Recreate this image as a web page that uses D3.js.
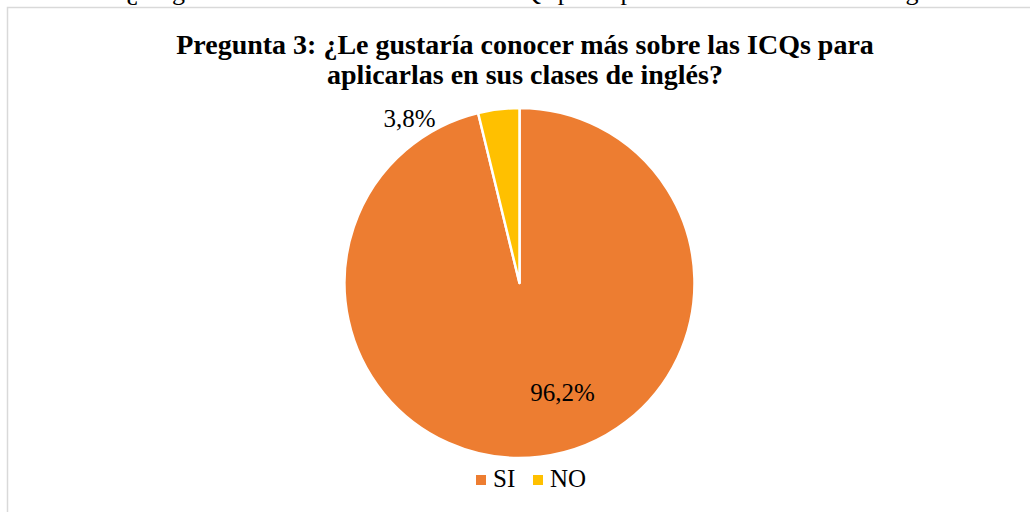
<!DOCTYPE html>
<html>
<head>
<meta charset="utf-8">
<script src="https://cdn.jsdelivr.net/npm/d3@7"></script>
<style>
  body { margin: 0; background: #fff; }
  svg { display: block; font-family: "Liberation Serif", "Times New Roman", serif; }
</style>
</head>
<body>
<svg id="chart" width="1030" height="512"></svg>
<script>
const categories = ["SI", "NO"]
const values = [96.2, 3.8]
const labels = ["96,2%", "3,8%"]
const colors = ["#ED7D31", "#FFC000"]

const svg = d3.select("#chart")
const width = 1030, height = 512

// caption of the document, cut off at the top of the crop
svg.append("text")
  .attr("x", 14).attr("y", 0)
  .attr("font-size", 26)
  .attr("fill", "#000")
  .text("Gráfico 3: ¿Le gustaría conocer más sobre las ICQs para aplicarlas en sus clases de inglés?")

// chart border
svg.append("rect")
  .attr("x", 7.5).attr("y", 7.5)
  .attr("width", width).attr("height", height)
  .attr("fill", "none")
  .attr("stroke", "#d9d9d9")
  .attr("stroke-width", 1.5)

// title
const title = svg.append("text")
  .attr("text-anchor", "middle")
  .attr("font-weight", "bold")
  .attr("font-size", 28)
title.append("tspan").attr("x", 525).attr("y", 54)
  .text("Pregunta 3: ¿Le gustaría conocer más sobre las ICQs para")
title.append("tspan").attr("x", 525).attr("y", 84)
  .text("aplicarlas en sus clases de inglés?")

// pie
const cx = 519.5, cy = 283, r = 175
const pie = d3.pie().sort(null).value(d => d)
const arcs = pie(values)
const arc = d3.arc().innerRadius(0).outerRadius(r)

const g = svg.append("g").attr("transform", `translate(${cx},${cy})`)
g.selectAll("path")
  .data(arcs)
  .join("path")
  .attr("d", arc)
  .attr("fill", (d, i) => colors[i])
  .attr("stroke", "#fff")
  .attr("stroke-width", 2.5)
  .attr("stroke-linejoin", "round")

// data labels: big slice inside, small slice outside to the left
const labelPos = [
  d => { const c = d3.arc().innerRadius(r * 0.72).outerRadius(r * 0.72).centroid(d); return [c[0] + 28, c[1] - 7] },
  d => { const c = d3.arc().innerRadius(r * 1.1).outerRadius(r * 1.1).centroid(d); return [c[0] - 87, c[1] + 35] }
]
g.selectAll("text.lbl")
  .data(arcs)
  .join("text")
  .attr("class", "lbl")
  .attr("text-anchor", "middle")
  .attr("font-size", 25)
  .attr("fill", "#000")
  .attr("x", (d, i) => labelPos[i](d)[0])
  .attr("y", (d, i) => labelPos[i](d)[1])
  .text((d, i) => labels[i])

// legend
const legend = svg.append("g").attr("transform", "translate(476,487)")
const legX = [0, 57]
categories.forEach((c, i) => {
  legend.append("rect")
    .attr("x", legX[i]).attr("y", -12)
    .attr("width", 10).attr("height", 10)
    .attr("fill", colors[i])
  legend.append("text")
    .attr("x", legX[i] + 17).attr("y", 0)
    .attr("font-size", 25)
    .attr("fill", "#000")
    .text(c)
})
</script>
</body>
</html>
